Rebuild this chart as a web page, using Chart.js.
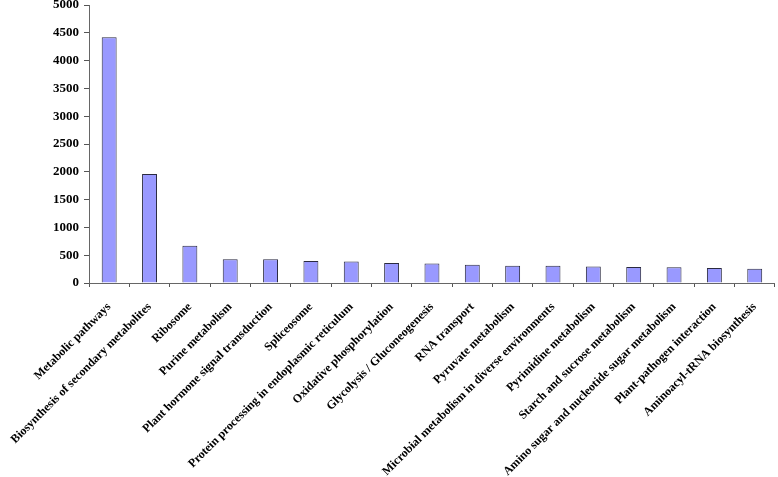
<!DOCTYPE html>
<html>
<head>
<meta charset="utf-8">
<script src="https://cdn.jsdelivr.net/npm/chart.js@4/dist/chart.umd.min.js"></script>
<style>
html,body{margin:0;padding:0;background:#fff;}
#wrap{width:778px;height:477px;position:relative;}
</style>
</head>
<body>
<div id="wrap"><canvas id="c" width="778" height="477"></canvas></div>
<script>
const categories = [
  "Metabolic pathways",
  "Biosynthesis of secondary metabolites",
  "Ribosome",
  "Purine metabolism",
  "Plant hormone signal transduction",
  "Spliceosome",
  "Protein processing in endoplasmic reticulum",
  "Oxidative phosphorylation",
  "Glycolysis / Gluconeogenesis",
  "RNA transport",
  "Pyruvate metabolism",
  "Microbial metabolism in diverse environments",
  "Pyrimidine metabolism",
  "Starch and sucrose metabolism",
  "Amino sugar and nucleotide sugar metabolism",
  "Plant-pathogen interaction",
  "Aminoacyl-tRNA biosynthesis"
];
const geneCounts = [4420, 1960, 668, 426, 426, 395, 385, 360, 350, 330, 312, 311, 295, 287, 285, 270, 257];
const yTicks = [0, 500, 1000, 1500, 2000, 2500, 3000, 3500, 4000, 4500, 5000];

new Chart(document.getElementById('c'), {
  type: 'bar',
  data: {
    labels: categories,
    datasets: [{
      data: geneCounts,
      backgroundColor: '#9999FF',
      borderColor: '#2a2a40',
      borderWidth: 1,
      barPercentage: 0.74,
      categoryPercentage: 0.5
    }]
  },
  options: {
    responsive: false,
    animation: false,
    devicePixelRatio: 1,
    layout: { padding: { top: 5, right: 3, bottom: 0, left: 0 } },
    plugins: { legend: { display: false }, tooltip: { enabled: false } },
    scales: {
      x: {
        grid: { display: true, drawOnChartArea: false, drawTicks: true, tickLength: 4, color: '#555', offset: true },
        border: { display: true, color: '#666', width: 1 },
        ticks: {
          autoSkip: false,
          maxRotation: 45,
          minRotation: 45,
          color: '#000',
          padding: 13,
          font: { family: 'Liberation Serif', weight: 'bold', size: 12 }
        },
        afterFit(scale) { scale.height = 194; }
      },
      y: {
        min: 0,
        max: 5000,
        afterBuildTicks(scale) { scale.ticks = yTicks.map(v => ({ value: v })); },
        grid: { display: true, drawOnChartArea: false, drawTicks: true, tickLength: 5, color: '#555' },
        border: { display: true, color: '#666', width: 1 },
        ticks: {
          color: '#000',
          padding: 5,
          callback: (v) => String(v),
          font: { family: 'Liberation Serif', weight: 'bold', size: 13 }
        },
        afterFit(scale) { scale.width = 89; scale.paddingTop = 0; scale.paddingBottom = 0; }
      }
    }
  }
});
</script>
</body>
</html>
